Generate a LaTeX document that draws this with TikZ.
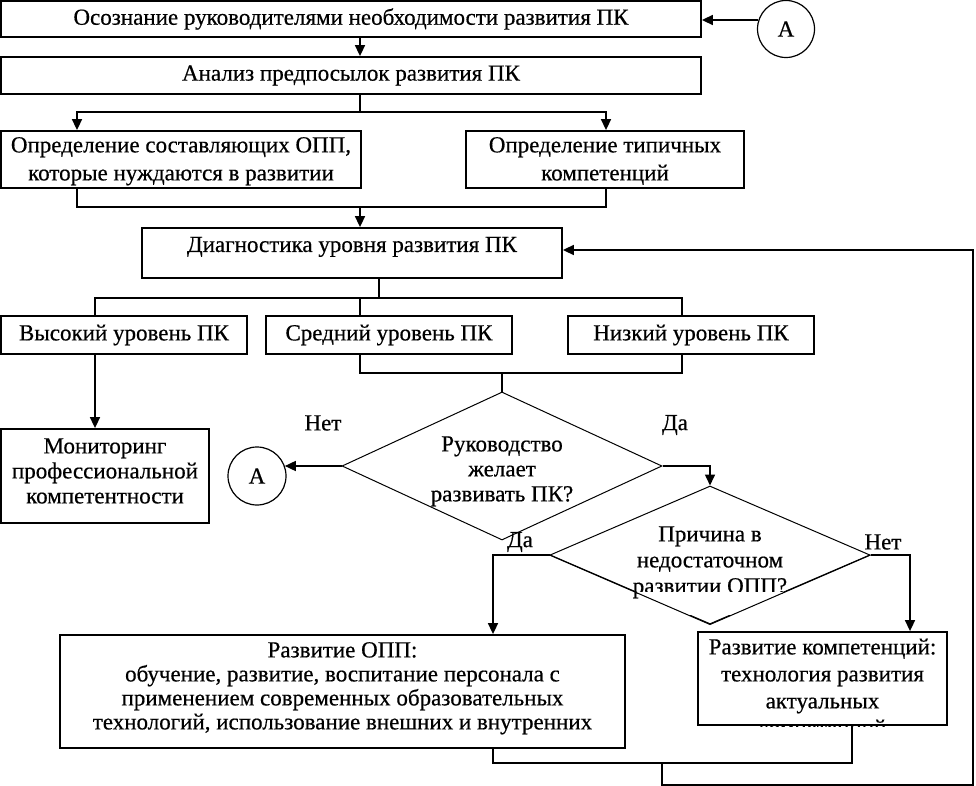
\documentclass[tikz,border=0pt]{standalone}
\usepackage{fontspec}
\setmainfont[FakeBold=0.5]{Liberation Serif}
\usetikzlibrary{arrows.meta,shapes.geometric,calc}
\newcommand\mlines[3]{\smash{\makebox[0pt]{\raisebox{#1}{\fontsize{23}{#2}\selectfont\begin{tabular}{@{}c@{}}#3\end{tabular}}}}}
\begin{document}
\begin{tikzpicture}[x=1pt,y=-1pt,
  box/.style={draw,line width=1.8pt,rectangle,inner sep=0pt,font=\fontsize{23}{26}\selectfont},
  dia/.style={draw,line width=1pt,diamond,inner sep=0pt,aspect=2.2},
  circ/.style={draw,line width=1.2pt,circle,inner sep=0pt,minimum size=57pt,font=\fontsize{23}{26}\selectfont},
  lbl/.style={inner sep=0pt,font=\fontsize{23}{26}\selectfont},
  con/.style={line width=1.6pt},
  arr/.style={con,-{Triangle[length=11pt,width=10pt]}}]
\useasboundingbox (0,0) rectangle (976,786);

% boxes
\node[box,minimum width=700pt,minimum height=36pt] (b1) at (351,19) {Осознание руководителями необходимости развития ПК};
\node[box,minimum width=700pt,minimum height=37pt] (b2) at (351,75.5) {Анализ предпосылок развития ПК};
\node[box,minimum width=360pt,minimum height=57pt] (b3) at (181,159.5) {\mlines{-7.5pt}{28}{Определение составляющих ОПП,\\которые нуждаются в развитии}};
\node[box,minimum width=278pt,minimum height=57pt] (b4) at (605,159.5) {\mlines{-7.5pt}{28}{Определение типичных\\компетенций}};
\node[box,minimum width=420pt,minimum height=50pt] (b5) at (352,253) {\mlines{0pt}{26}{Диагностика уровня развития ПК}};
\node[box,minimum width=246pt,minimum height=38pt] (hi) at (124,335) {Высокий уровень ПК};
\node[box,minimum width=246pt,minimum height=38pt] (mid) at (389,335) {Средний уровень ПК};
\node[box,minimum width=246pt,minimum height=38pt] (low) at (691,335) {Низкий уровень ПК};
\node[box,minimum width=208pt,minimum height=94pt] (mon) at (105,476) {\mlines{-3.6pt}{25}{Мониторинг\\профессиональной\\компетентности}};
\node[dia,minimum width=320pt,minimum height=148pt] (d1) at (502,466) {\mlines{-11.6pt}{25}{Руководство\\желает\\развивать ПК?}};
\node[dia,minimum width=320pt,minimum height=138pt] (d2) at (710,555) {\mlines{-13.4pt}{26}{Причина в\\недостаточном\\развитии ОПП?}};
\node[box,minimum width=565pt,minimum height=113pt] (opp) at (342.5,691.5) {\mlines{-3.3pt}{24}{Развитие ОПП:\\обучение, развитие, воспитание персонала с\\применением современных образовательных\\технологий, использование внешних и внутренних}};
\node[box,minimum width=249pt,minimum height=93pt] (comp) at (822.5,678.5) {\mlines{-17.2pt}{27}{Развитие компетенций:\\технология развития\\актуальных\\компетенций}};
\node[circ] (A1) at (786,29) {А};
\node[circ,minimum size=58pt] (A2) at (257,476) {А};

% labels
\node[lbl] (n1) at (323,423) {Нет};
\node[lbl] (y1) at (675,425) {Да};
\node[lbl] (y2) at (520,542) {Да};
\node[lbl] (n2) at (883,542) {Нет};

% clipped text lines
\begin{scope}
  \clip (d2.west) -- (d2.north) -- (d2.east) -- (d2.south) -- cycle;
  \fill[white] (600,592) rectangle (820,615);
\end{scope}
\draw[line width=1pt] (d2.west) -- (d2.south) -- (d2.east);
\fill[white] (700,726.5) rectangle (945,745);

% helper coordinates
\coordinate (x77) at (77,0);
\coordinate (x95) at (95,0);
\coordinate (x360) at (360,0);
\coordinate (x379) at (379,0);
\coordinate (x493) at (493,0);
\coordinate (x502) at (502,0);
\coordinate (x606) at (606,0);
\coordinate (x662) at (662,0);
\coordinate (x682) at (682,0);
\coordinate (x852) at (852,0);
\coordinate (x910) at (910,0);
\coordinate (x973) at (973,0);
\coordinate (y112) at (0,112);
\coordinate (y207) at (0,207);
\coordinate (y298) at (0,298);
\coordinate (y373) at (0,373);
\coordinate (y763) at (0,763);
\coordinate (y785) at (0,785);
\coordinate (fb) at ([yshift=3pt]b5.east);

% connectors
\draw[arr] (A1.162) -- (A1.162 -| b1.east);
\draw[arr] (b1.south -| x360) -- (b2.north -| x360);
\draw[con] (b2.south -| x360) -- (x360 |- y112);
\draw[arr] (x360 |- y112) -| (b3.north -| x77);
\draw[arr] (x360 |- y112) -| (b4.north -| x606);
\draw[con] (b3.south -| x77) -- (x77 |- y207) -- (x606 |- y207) -- (b4.south -| x606);
\draw[arr] (x360 |- y207) -- (b5.north -| x360);
\draw[con] (b5.south -| x379) -- (x379 |- y298);
\draw[con] (hi.north -| x95) -- (x95 |- y298) -- (x682 |- y298) -- (low.north -| x682);
\draw[con] (x360 |- y298) -- (mid.north -| x360);
\draw[arr] (hi.south -| x95) -- (mon.north -| x95);
\draw[con] (mid.south -| x360) -- (x360 |- y373) -- (x682 |- y373) -- (low.south -| x682);
\draw[con] (x502 |- y373) -- (d1.north);
\draw[arr] (d1.west) -- (d1.west -| A2.20);
\draw[arr] (d1.east) -| (d2.north);
\draw[arr] (d2.west) -| (opp.north -| x493);
\draw[arr] (d2.east) -| (comp.north -| x910);
\draw[con] (opp.south -| x493) -- (x493 |- y763) -- (x852 |- y763) -- (comp.south -| x852);
\draw[arr] (x662 |- y763) -- (x662 |- y785) -- (x973 |- y785) -- (x973 |- fb) -- (fb);
\end{tikzpicture}
\end{document}
